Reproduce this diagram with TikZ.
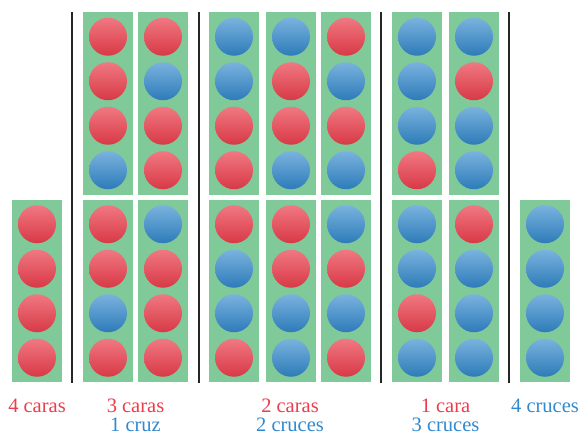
\documentclass[tikz,border=0pt]{standalone}
\usepackage{fontspec}
\setmainfont{Liberation Serif}
\usetikzlibrary{positioning}
\definecolor{tapete}{RGB}{128,201,153}
\definecolor{cararoja}{RGB}{234,62,76}
\definecolor{cruzazul}{RGB}{50,137,205}
\tikzset{
  caja/.style={fill=tapete,minimum width=50pt,minimum height=182pt,inner sep=0pt},
  ficha/.style={circle,minimum size=38pt,inner sep=0pt,shading angle=30},
  cara/.style={ficha,top color=cararoja!70!white,bottom color=cararoja!92!black},
  cruz/.style={ficha,top color=cruzazul!65!white,bottom color=cruzazul!90!black},
  sep/.style={black!85,line width=1.3pt},
  rotulo/.style={font=\fontsize{20.5}{22}\selectfont,anchor=base,inner sep=0pt},
  rotcara/.style={rotulo,text=cararoja},
  rotcruz/.style={rotulo,text=cruzazul}
}

\begin{document}
\begin{tikzpicture}[x=1pt,y=-1pt]
  \useasboundingbox (0,0) rectangle (582,436);
  % columnas: nombre / x / y centro / cuatro fichas de arriba a abajo
  \foreach \n/\x/\y/\a/\b/\c/\d in {
      c0/37/291/cara/cara/cara/cara,
      a1/108/103.5/cara/cara/cara/cruz, a2/163/103.5/cara/cruz/cara/cara,
      b1/108/291/cara/cara/cruz/cara, b2/163/291/cruz/cara/cara/cara,
      a3/234/103.5/cruz/cruz/cara/cara, a4/291/103.5/cruz/cara/cara/cruz,
      a5/346/103.5/cara/cruz/cara/cruz,
      b3/234/291/cara/cruz/cruz/cara, b4/291/291/cara/cara/cruz/cruz,
      b5/346/291/cruz/cara/cruz/cara,
      a6/417/103.5/cruz/cruz/cruz/cara, a7/474/103.5/cruz/cara/cruz/cruz,
      b6/417/291/cruz/cruz/cara/cruz, b7/474/291/cara/cruz/cruz/cruz,
      c8/545/291/cruz/cruz/cruz/cruz}{
    \node[caja] (\n) at (\x,\y) {};
    \foreach \k/\f in {1/\a,2/\b,3/\c,4/\d}
      \node[\f] (\n-\k) at (\x,\y-111.25+44.5*\k) {};
  }
  % separadores
  \foreach \s in {72,199,381,509}
    \draw[sep] (\s,12) -- (\s,383);
  % rotulos
  \node[rotcara] (r0) at (37,412.5) {4 caras};
  \node[rotcara] (r1a) at (135.5,412.5) {3 caras};
  \node[rotcruz] (r1b) at (135.5,431.5) {1 cruz};
  \node[rotcara] (r2a) at (290,412.5) {2 caras};
  \node[rotcruz] (r2b) at (290,431.5) {2 cruces};
  \node[rotcara] (r3a) at (445.5,412.5) {1 cara};
  \node[rotcruz] (r3b) at (445.5,431.5) {3 cruces};
  \node[rotcruz] (r4) at (545,412.5) {4 cruces};
\end{tikzpicture}
\end{document}
